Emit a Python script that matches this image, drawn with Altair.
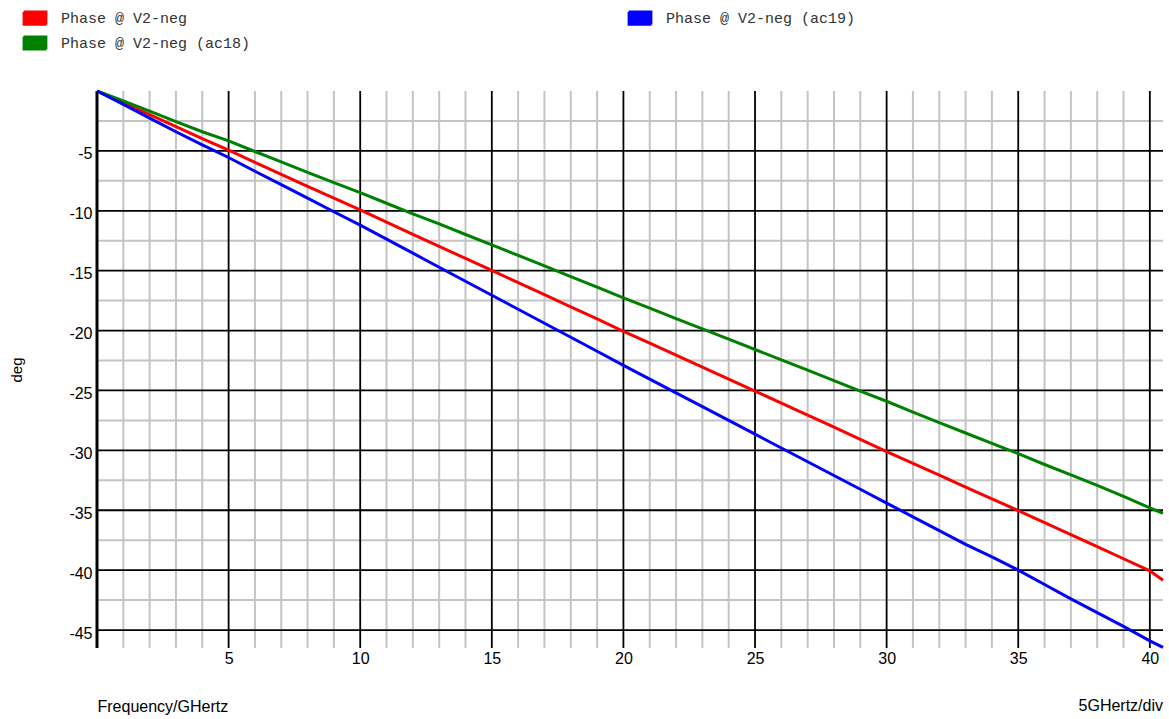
import altair as alt
import pandas as pd

# ---- data ----
freq = [0, 1, 2, 3, 4, 5, 6, 7, 8, 9, 10, 11, 12, 13, 14, 15, 16, 17, 18, 19, 20,
        21, 22, 23, 24, 25, 26, 27, 28, 29, 30, 31, 32, 33, 34, 35, 36, 37, 38, 39, 40, 40.5]

phase_red = [0, -0.98, -1.98, -2.97, -3.97, -4.94, -5.95, -6.96, -7.96, -8.95, -9.93,
             -10.95, -11.96, -12.97, -13.98, -14.98, -15.99, -17.0, -18.02, -19.03, -20.06,
             -21.05, -22.05, -23.06, -24.05, -25.05, -26.05, -27.06, -28.07, -29.08, -30.1,
             -31.08, -32.07, -33.06, -34.05, -35.03, -36.03, -37.04, -38.04, -39.05, -40.06, -40.85]

phase_green = [0, -0.82, -1.68, -2.55, -3.40, -4.16, -5.05, -5.92, -6.80, -7.65, -8.48,
               -9.37, -10.25, -11.10, -11.98, -12.85, -13.72, -14.60, -15.50, -16.38, -17.27,
               -18.12, -19.0, -19.86, -20.72, -21.58, -22.45, -23.30, -24.18, -25.05, -25.90,
               -26.80, -27.68, -28.55, -29.42, -30.28, -31.18, -32.05, -32.92, -33.85, -34.80, -35.25]

phase_blue = [0, -1.12, -2.26, -3.40, -4.50, -5.55, -6.70, -7.82, -8.95, -10.08, -11.20,
              -12.37, -13.54, -14.71, -15.88, -17.05, -18.22, -19.39, -20.56, -21.73, -22.90,
              -24.05, -25.20, -26.35, -27.50, -28.65, -29.80, -30.95, -32.10, -33.25, -34.40,
              -35.55, -36.70, -37.85, -38.90, -40.00, -41.20, -42.40, -43.55, -44.70, -45.90, -46.45]

# legend order (column-major): red, green | blue
series_names = ["Phase @ V2-neg", "Phase @ V2-neg (ac18)", "Phase @ V2-neg (ac19)"]
series_colors = ["#ff0000", "#008000", "#0000ff"]

x_major = [5, 10, 15, 20, 25, 30, 35, 40]
x_minor = [v for v in range(1, 41) if v % 5 != 0]
y_major = [-5, -10, -15, -20, -25, -30, -35, -40, -45]
y_minor = [-2.5, -7.5, -12.5, -17.5, -22.5, -27.5, -32.5, -37.5, -42.5]

x_domain = [0, 40.5]
y_domain = [-46.5, 0]

# ---- tables ----
rows = []
for name, vals in [(series_names[0], phase_red), (series_names[1], phase_green), (series_names[2], phase_blue)]:
    for f, p in zip(freq, vals):
        rows.append({"freq": f, "phase": p, "series": name})
df = pd.DataFrame(rows)

W, H = 1066, 557

# legend swatch: serpentine path that fills a 24x15 box when stroked
_ys = [-0.55, -0.44, -0.33, -0.22, -0.11, 0.0, 0.11, 0.22, 0.33, 0.44, 0.55]
_parts = ["M-0.95,%s" % _ys[0]]
for i, yv in enumerate(_ys):
    if i > 0:
        _parts.append("V%s" % yv)
    _parts.append("H0.95" if i % 2 == 0 else "H-0.95")
swatch = "".join(_parts)

xs = alt.Scale(domain=x_domain, nice=False, zero=False)
ys = alt.Scale(domain=y_domain, nice=False, zero=False)

x_axis = alt.Axis(values=x_major, grid=False, ticks=False, tickSize=0, domain=False,
                  labelFontSize=16, labelFont="Liberation Sans", labelColor="#000000",
                  labelPadding=2, labelFlush=False,
                  title="Frequency/GHertz", titleFont="Liberation Sans", titleFontSize=16,
                  titleFontWeight="normal", titleColor="#000000", titleAnchor="start",
                  titleAlign="left", titleX=0, titleY=63, titleBaseline="alphabetic")
y_axis = alt.Axis(values=y_major, grid=False, ticks=False, tickSize=0, domain=False,
                  labelExpr="datum.value + ''",
                  labelFontSize=16, labelFont="Liberation Sans", labelColor="#000000",
                  labelPadding=5, labelFlush=False, labelOffset=3,
                  title="deg", titleFont="Liberation Sans", titleFontSize=15,
                  titleFontWeight="normal", titleColor="#000000", titleAngle=-90,
                  titleX=-76, titleY=H / 2, titleAlign="center",
                  titleBaseline="alphabetic")

xminor = alt.Chart(pd.DataFrame({"v": x_minor})).mark_rule(color="#c4c4c4", strokeWidth=2).encode(
    x=alt.X("v:Q", scale=xs, axis=x_axis))
yminor = alt.Chart(pd.DataFrame({"v": y_minor})).mark_rule(color="#c4c4c4", strokeWidth=2).encode(
    y=alt.Y("v:Q", scale=ys, axis=y_axis))
xmajor = alt.Chart(pd.DataFrame({"v": x_major})).mark_rule(color="#000000", strokeWidth=1.8).encode(
    x=alt.X("v:Q", scale=xs, axis=x_axis))
ymajor = alt.Chart(pd.DataFrame({"v": y_major})).mark_rule(color="#000000", strokeWidth=1.8).encode(
    y=alt.Y("v:Q", scale=ys, axis=y_axis))
yaxisline = alt.Chart(pd.DataFrame({"v": [0]})).mark_rule(color="#000000", strokeWidth=3).encode(
    x=alt.X("v:Q", scale=xs, axis=x_axis))

lines = alt.Chart(df).mark_line(strokeWidth=3).encode(
    x=alt.X("freq:Q", scale=xs, axis=x_axis),
    y=alt.Y("phase:Q", scale=ys, axis=y_axis),
    color=alt.Color("series:N",
                    scale=alt.Scale(domain=series_names, range=series_colors),
                    sort=series_names,
                    legend=alt.Legend(title=None, orient="none", legendX=-75, legendY=-86,
                                      columns=2, columnPadding=373, rowPadding=1,
                                      padding=0, offset=0,
                                      symbolType=swatch, symbolSize=576,
                                      symbolStrokeWidth=2, symbolOpacity=1,
                                      labelFont="Liberation Mono", labelFontSize=15,
                                      labelColor="#333333", labelOffset=13, labelLimit=400)),
)

div_text = alt.Chart(pd.DataFrame({"t": ["5GHertz/div"]})).mark_text(
    align="right", baseline="alphabetic", font="Liberation Sans", fontSize=16, color="#000000"
).encode(text="t:N", x=alt.value(W), y=alt.value(H + 63))

chart = alt.layer(xminor, yminor, xmajor, ymajor, yaxisline, lines, div_text).properties(
    width=W, height=H,
    autosize=alt.AutoSizeParams(type="none"),
    padding={"left": 97, "top": 91, "right": 6, "bottom": 71},
).configure_view(stroke=None)

chart.save("out.html", embed_options={"renderer": "svg", "actions": False})
